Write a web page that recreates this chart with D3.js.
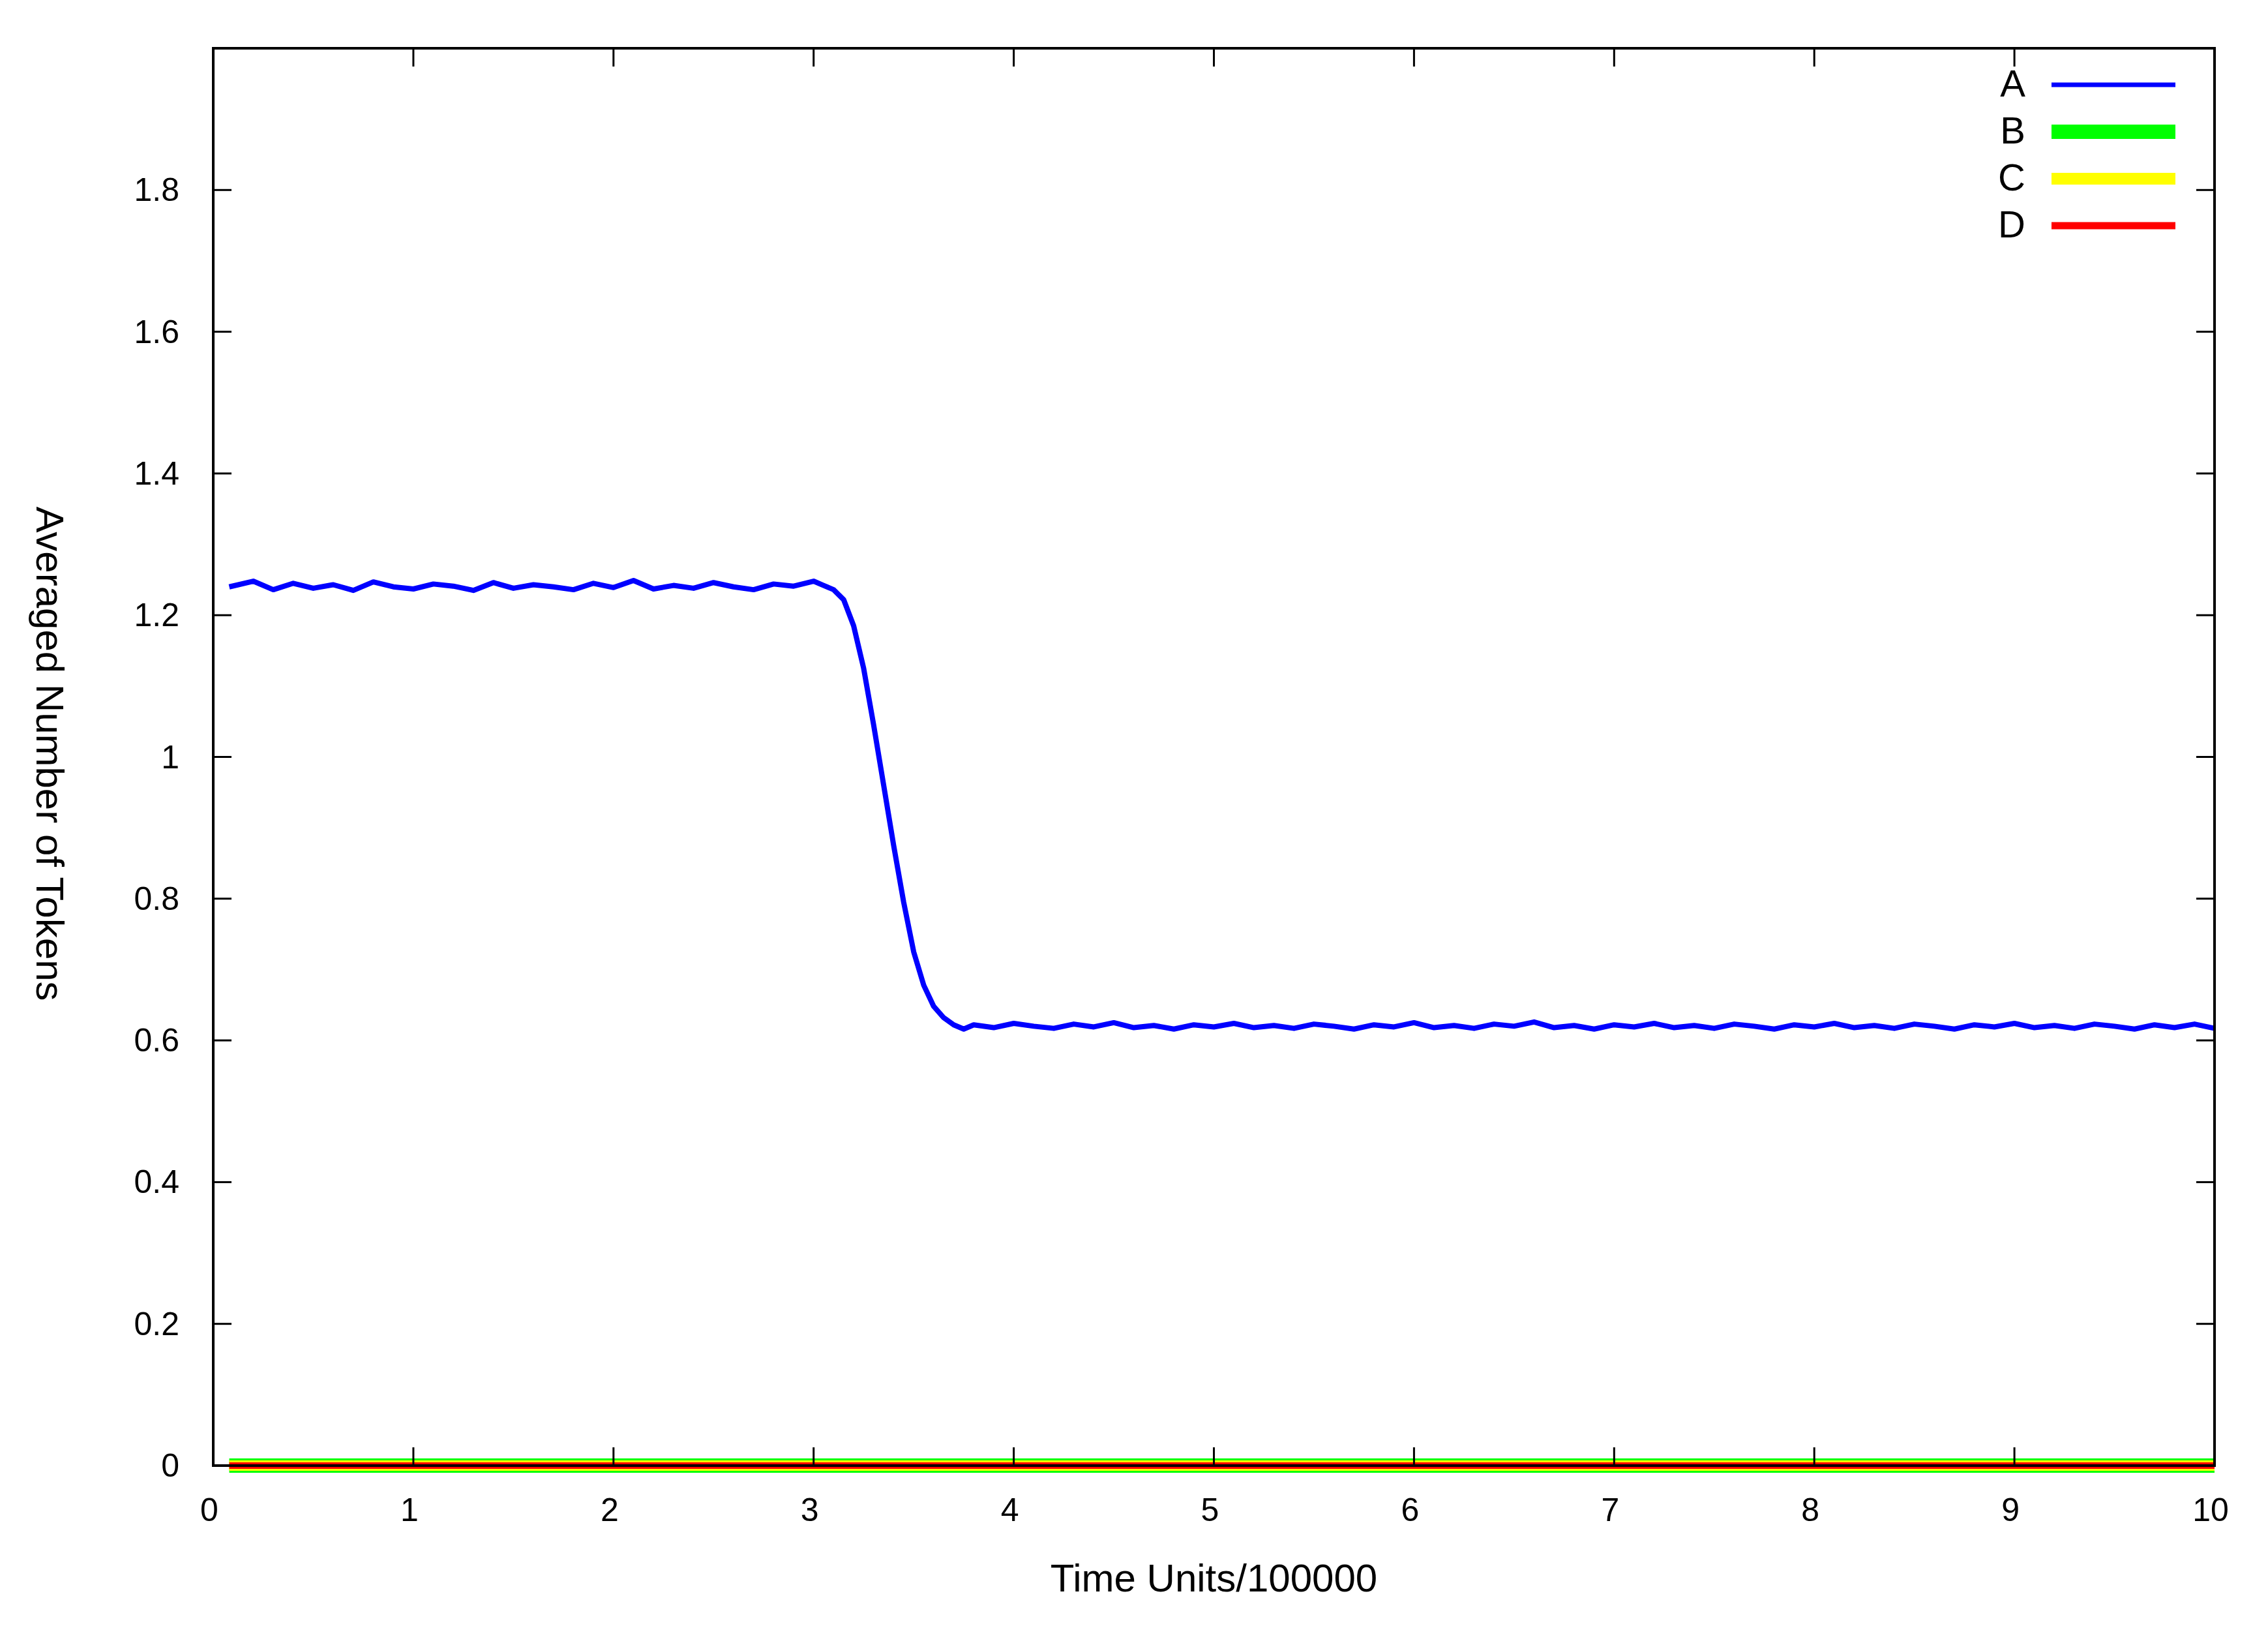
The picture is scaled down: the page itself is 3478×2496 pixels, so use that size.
<!DOCTYPE html>
<html><head><meta charset="utf-8">
<script src="https://cdn.jsdelivr.net/npm/d3@7"></script>
<style>body{margin:0;background:#fff}svg{display:block}text{font-family:"Liberation Sans",Arial,sans-serif;fill:#000}</style>
</head><body><svg id="chart" width="3478" height="2496"></svg>
<script>
/* data */
var timeX=[0.08,0.2,0.3,0.4,0.5,0.6,0.7,0.8,0.9,1.0,1.1,1.2,1.3,1.4,1.5,1.6,1.7,1.8,1.9,2.0,2.1,2.2,2.3,2.4,2.5,2.6,2.7,2.8,2.9,3.0,3.05,3.1,3.15,3.2,3.25,3.3,3.35,3.4,3.45,3.5,3.55,3.6,3.65,3.7,3.75,3.8,3.9,4.0,4.1,4.2,4.3,4.4,4.5,4.6,4.7,4.8,4.9,5.0,5.1,5.2,5.3,5.4,5.5,5.6,5.7,5.8,5.9,6.0,6.1,6.2,6.3,6.4,6.5,6.6,6.7,6.8,6.9,7.0,7.1,7.2,7.3,7.4,7.5,7.6,7.7,7.8,7.9,8.0,8.1,8.2,8.3,8.4,8.5,8.6,8.7,8.8,8.9,9.0,9.1,9.2,9.3,9.4,9.5,9.6,9.7,9.8,9.9,10.0];
var seriesA=[1.24,1.248,1.236,1.245,1.238,1.243,1.235,1.247,1.24,1.237,1.244,1.241,1.235,1.246,1.238,1.243,1.24,1.236,1.245,1.239,1.249,1.237,1.242,1.238,1.246,1.24,1.236,1.244,1.241,1.248,1.242,1.236,1.222,1.185,1.125,1.045,0.96,0.875,0.795,0.725,0.678,0.648,0.632,0.622,0.616,0.622,0.618,0.624,0.62,0.617,0.623,0.619,0.625,0.618,0.621,0.616,0.622,0.619,0.624,0.618,0.621,0.617,0.623,0.62,0.616,0.622,0.619,0.625,0.618,0.621,0.617,0.623,0.62,0.626,0.618,0.621,0.616,0.622,0.619,0.624,0.618,0.621,0.617,0.623,0.62,0.616,0.622,0.619,0.624,0.618,0.621,0.617,0.623,0.62,0.616,0.622,0.619,0.624,0.618,0.621,0.617,0.623,0.62,0.616,0.622,0.618,0.623,0.617];
var flatX=[0.08,10];
var seriesB=[0,0], seriesC=[0,0], seriesD=[0,0];
var xTicks=[0,1,2,3,4,5,6,7,8,9,10];
var yTicks=[0,0.2,0.4,0.6,0.8,1,1.2,1.4,1.6,1.8];
var legendNames=['A','B','C','D'];
var legendColors=['#0000ff','#00ff00','#ffff00','#ff0000'];
var legendWidths=[7,22,18,11];

var L=327,R=3396,T=74,B=2247;
var svg=d3.select('#chart');
var x=d3.scaleLinear().domain([0,10]).range([L,R]);
var y=d3.scaleLinear().domain([0,2]).range([B,T]);
var line=d3.line().x(function(d){return x(d[0])}).y(function(d){return y(d[1])});

/* flat series at zero, widest first */
[[seriesB,'#00ff00',22],[seriesC,'#ffff00',16],[seriesD,'#ff0000',10]].forEach(function(s){
  svg.append('path').datum(flatX.map(function(v,i){return [v,s[0][i]]}))
    .attr('d',line).attr('fill','none').attr('stroke',s[1]).attr('stroke-width',s[2]);
});
svg.append('path').datum(timeX.map(function(v,i){return [v,seriesA[i]]}))
  .attr('d',line).attr('fill','none').attr('stroke','#0000ff').attr('stroke-width',8).attr('stroke-linejoin','round');

/* frame + inward ticks */
svg.append('rect').attr('x',L).attr('y',T).attr('width',R-L).attr('height',B-T)
  .attr('fill','none').attr('stroke','#000').attr('stroke-width',4);
var tl=28;
xTicks.forEach(function(t){
  svg.append('line').attr('x1',x(t)).attr('x2',x(t)).attr('y1',B).attr('y2',B-tl).attr('stroke','#000').attr('stroke-width',3);
  svg.append('line').attr('x1',x(t)).attr('x2',x(t)).attr('y1',T).attr('y2',T+tl).attr('stroke','#000').attr('stroke-width',3);
  svg.append('text').attr('x',x(t)-6).attr('y',B+85).attr('text-anchor','middle').attr('font-size',50).text(t);
});
yTicks.forEach(function(t){
  svg.append('line').attr('x1',L).attr('x2',L+tl).attr('y1',y(t)).attr('y2',y(t)).attr('stroke','#000').attr('stroke-width',3);
  svg.append('line').attr('x1',R).attr('x2',R-tl).attr('y1',y(t)).attr('y2',y(t)).attr('stroke','#000').attr('stroke-width',3);
  svg.append('text').attr('x',L-52).attr('y',y(t)+17).attr('text-anchor','end').attr('font-size',50).text(t);
});

/* axis titles */
svg.append('text').attr('x',(L+R)/2).attr('y',2440).attr('text-anchor','middle').attr('font-size',60).text('Time Units/100000');
svg.append('text').attr('transform','translate(56,'+((T+B)/2-5)+') rotate(90)').attr('text-anchor','middle').attr('font-size',60).text('Averaged Number of Tokens');

/* legend */
legendNames.forEach(function(n,i){
  var ly=126+i*72;
  svg.append('text').attr('x',3106).attr('y',ly+22).attr('text-anchor','end').attr('font-size',58).text(n);
  svg.append('line').attr('x1',3146).attr('x2',3336).attr('y1',ly+4).attr('y2',ly+4)
    .attr('stroke',legendColors[i]).attr('stroke-width',legendWidths[i]);
});
</script></body></html>
